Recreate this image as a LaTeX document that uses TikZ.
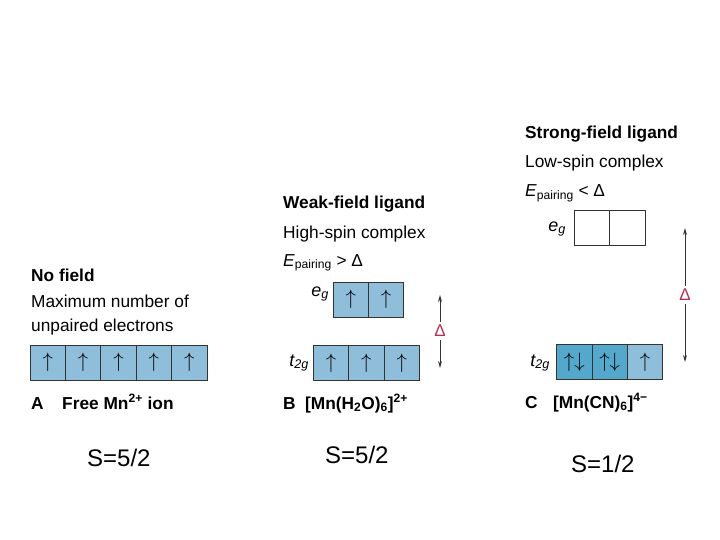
\documentclass[tikz,border=0pt]{standalone}
\usepackage{fontspec}
\setmainfont{Liberation Sans}
\usetikzlibrary{arrows.meta}
\definecolor{orbitlight}{RGB}{143,190,218}
\definecolor{orbitdark}{RGB}{84,168,203}
\definecolor{deltared}{RGB}{178,48,85}
\newcommand{\up}{$\uparrow$}
\newcommand{\updown}{$\uparrow\downarrow$}

\begin{document}
\begin{tikzpicture}
[x=1pt,y=-1pt,
  orbital/.style={shape=rectangle,draw=black!80,line width=0.7pt,fill=orbitlight,%
    minimum width=35.4pt,minimum height=35pt,inner sep=0pt,font=\fontsize{20}{20}\selectfont},%
  heading/.style={anchor=base west,inner sep=0pt,font=\fontsize{17.3}{18}\selectfont\bfseries},%
  caption/.style={anchor=base west,inner sep=0pt,font=\fontsize{17.3}{18}\selectfont},%
  levellabel/.style={anchor=base east,inner sep=0pt,font=\fontsize{18}{18}\selectfont\itshape},%
  spinlabel/.style={anchor=base west,inner sep=0pt,font=\fontsize{24}{24}\selectfont},%
  deltalabel/.style={text=deltared,inner sep=3pt,font=\fontsize{17}{17}\selectfont},%
  splitarrow/.style={-{Stealth[length=7pt,width=4pt]},draw=black!80,line width=1pt}]
\useasboundingbox (0,0) rectangle (720,540);
%% A: free ion
\node [heading] (nofield) at (31,281.5) {No field};
\node [caption] (maxnum) at (31,307) {Maximum number of};
\node [caption] (unpaired) at (31,331.5) {unpaired electrons};
\foreach \i/\x in {1/47.7, 2/83.1, 3/118.5, 4/153.9, 5/189.3}
{
  \node (a\i) at (\x,362.5) [orbital] {\up};
}
\node [heading] (letterA) at (31,409) {A};
\node [heading] (nameA) at (62,409) {Free Mn\textsuperscript{2+} ion};
\node [spinlabel] (spinA) at (87,466) {S=5/2};
%% B: weak field
\node [heading] (weak) at (283,209) {Weak-field ligand};
\node [caption] (high) at (283,238) {High-spin complex};
\node [caption] (pairB) at (283,266) {\textit{E}\textsubscript{pairing} > Δ};
\foreach \i/\x in {1/350.7, 2/386.1}
{
  \node (beg\i) at (\x,299.5) [orbital] {\up};
}
\foreach \i/\x in {1/331, 2/366.4, 3/401.8}
{
  \node (bt\i) at (\x,363) [orbital] {\up};
}
\node [levellabel] (egB) at (329,296) {e\textsubscript{g}};
\node [levellabel] (tB) at (309,366) {t\textsubscript{2g}};
\node [deltalabel] (deltaB) at (440,331) {Δ};
\coordinate (topB) at (440,295);
\coordinate (botB) at (440,368);
\draw [splitarrow] (deltaB) -- (topB);
\draw [splitarrow] (deltaB) -- (botB);
\node [heading] (letterB) at (283,409) {B};
\node [heading] (nameB) at (305,409) {[Mn(H\textsubscript{2}O)\textsubscript{6}]\textsuperscript{2+}};
\node [spinlabel] (spinB) at (325,463) {S=5/2};
%% C: strong field
\node [heading] (strong) at (525,139) {Strong-field ligand};
\node [caption] (low) at (525,168) {Low-spin complex};
\node [caption] (pairC) at (525,196.5) {\textit{E}\textsubscript{pairing} < Δ};
\foreach \i/\x in {1/592, 2/627.4}
{
  \node (ceg\i) at (\x,228) [orbital,fill=white] {};
}
\foreach \i/\x/\fillcol/\spin in {1/574.3/orbitdark/\updown, 2/609.7/orbitdark/\updown, 3/645.1/orbitlight/\up}
{
  \node (ct\i) at (\x,362) [orbital,fill=\fillcol] {\spin};
}
\node [levellabel] (egC) at (566,231) {e\textsubscript{g}};
\node [levellabel] (tC) at (550,366) {t\textsubscript{2g}};
\node [deltalabel] (deltaC) at (685,295) {Δ};
\coordinate (topC) at (685,228);
\coordinate (botC) at (685,362);
\draw [splitarrow] (deltaC) -- (topC);
\draw [splitarrow] (deltaC) -- (botC);
\node [heading] (letterC) at (525,408) {C};
\node [heading] (nameC) at (553,408) {[Mn(CN)\textsubscript{6}]\textsuperscript{4−}};
\node [spinlabel] (spinC) at (571,472) {S=1/2};
\end{tikzpicture}
\end{document}
